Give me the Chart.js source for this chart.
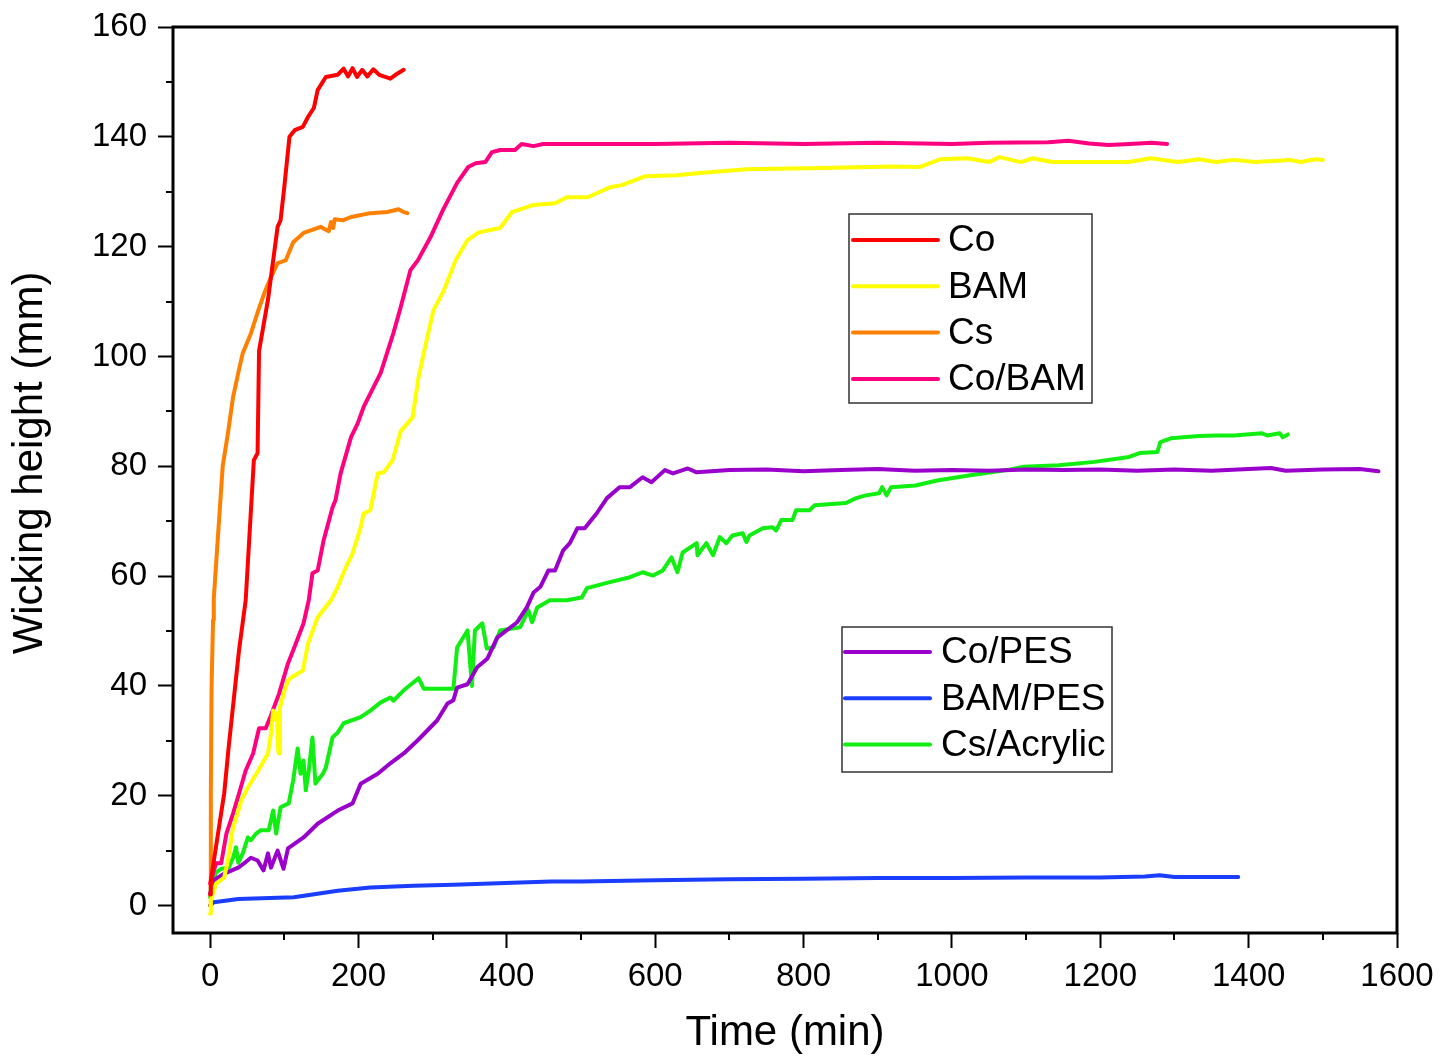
<!DOCTYPE html>
<html>
<head>
<meta charset="utf-8">
<script src="https://cdn.jsdelivr.net/npm/chart.js@4.4.0/dist/chart.umd.min.js"></script>
<style>
body { margin: 0; background: #fff; }
#graf { display: block; }
</style>
</head>
<body>
<canvas id="graf" width="1452" height="1057"></canvas>
<script>
/* Datos: tiempo (min) y altura (mm) */
const coT = [0, 1, 19, 25, 39, 48, 59, 64, 66, 78, 91, 95, 100, 107, 114, 125, 132, 140, 145, 156, 172, 180, 186, 192, 198, 205, 212, 220, 228, 234, 243, 250, 261]
const coH = [2, 4.6, 20.4, 28.8, 46.5, 55.6, 81.1, 82.4, 101, 110.3, 123.6, 124.8, 130.8, 140, 141.2, 141.8, 143.6, 145.3, 148.5, 150.9, 151.3, 152.4, 151, 152.5, 150.9, 152.2, 151, 152.3, 151.3, 151, 150.6, 151.3, 152.2]

const bamT = [0, 1, 8, 19, 24, 31, 42, 51, 65, 78, 82, 85, 88, 90, 92, 93, 94, 100, 105, 109, 125, 132, 145, 163, 172, 183, 192, 203, 207, 216, 226, 234, 246, 257, 273, 281, 288, 301, 315, 331, 347, 362, 391, 407, 436, 465, 481, 509, 539, 555, 586, 629, 660, 723, 825, 919, 956, 984, 1021, 1050, 1064, 1093, 1109, 1135, 1239, 1268, 1305, 1333, 1356, 1380, 1409, 1456, 1470, 1489, 1500]
const bamH = [-1.5, 0.9, 4, 5.1, 8.2, 14.2, 19.1, 21.5, 24.6, 27.7, 31.3, 35.5, 34, 35, 28, 27.7, 36, 39, 41, 41.5, 42.8, 47.7, 52.5, 55.6, 58, 61.6, 64.1, 68.9, 71.4, 72, 78.7, 78.9, 81.1, 86.4, 88.9, 96.2, 100.6, 108.4, 112, 117.5, 121.2, 122.6, 123.4, 126.3, 127.6, 127.9, 129, 129, 130.8, 131.2, 132.8, 133, 133.4, 134.1, 134.3, 134.6, 134.5, 135.9, 136.1, 135.4, 136.3, 135.4, 136.1, 135.4, 135.4, 136.1, 135.4, 135.9, 135.4, 135.8, 135.4, 135.8, 135.4, 135.9, 135.8]

const csT = [0, 1, 2, 4, 5, 11, 17, 24, 31, 38, 44, 55, 64, 73, 82, 91, 102, 112, 126, 149, 160, 163, 166, 168, 179, 190, 216, 239, 254, 261, 266]
const csH = [0, 20, 40, 52, 56, 68, 80, 86, 92.6, 97, 100.6, 104.2, 108, 111.5, 114.4, 117, 117.5, 120.8, 122.5, 123.6, 122.8, 124.5, 123.4, 125, 124.8, 125.4, 126.1, 126.3, 126.8, 126.3, 126.1]

const coBamT = [0, 8, 15, 22, 31, 39, 48, 58, 66, 75, 82, 93, 105, 113, 126, 133, 138, 145, 153, 165, 169, 176, 190, 199, 207, 230, 247, 257, 270, 280, 297, 314, 333, 348, 358, 371, 380, 391, 411, 420, 436, 449, 500, 600, 700, 800, 900, 1000, 1050, 1130, 1157, 1185, 1211, 1240, 1269, 1290]
const coBamH = [4, 7.7, 7.7, 13.1, 16.8, 20.4, 24.6, 27.7, 32.3, 32.3, 34.6, 38.6, 44.1, 46.8, 51.4, 55.6, 60.5, 61, 66.5, 72.5, 73.8, 78.7, 85.3, 87.8, 90.8, 97, 104.2, 109, 115.7, 117.5, 121.7, 126.7, 131.6, 134.5, 135.2, 135.4, 137.2, 137.6, 137.6, 138.7, 138.3, 138.7, 138.7, 138.7, 138.9, 138.7, 138.9, 138.7, 138.9, 139, 139.3, 138.8, 138.5, 138.7, 138.9, 138.7]

const coPesT = [0, 5, 19, 38, 46, 55, 64, 72, 78, 82, 91, 99, 105, 126, 145, 172, 192, 203, 226, 243, 261, 280, 306, 320, 328, 333, 347, 360, 374, 387, 414, 427, 436, 445, 456, 465, 476, 485, 495, 505, 521, 535, 552, 566, 583, 595, 613, 624, 644, 656, 700, 750, 800, 850, 900, 950, 1000, 1050, 1100, 1150, 1200, 1250, 1300, 1350, 1400, 1430, 1450, 1500, 1550, 1575]
const coPesH = [2.2, 4.6, 5.8, 6.9, 7.7, 8.7, 8.2, 6.4, 9.5, 6.9, 10, 6.7, 10.4, 12.4, 14.9, 17.3, 18.6, 22.2, 24, 25.9, 27.7, 30.1, 33.7, 36.8, 37.4, 39.7, 40.3, 43.4, 45, 48.8, 51.6, 54.3, 57, 58, 61, 61, 64.7, 66, 68.7, 68.7, 71.4, 74.2, 76.2, 76.2, 78, 77.1, 79.3, 78.7, 79.6, 78.9, 79.3, 79.4, 79.1, 79.3, 79.5, 79.2, 79.3, 79.2, 79.4, 79.3, 79.4, 79.2, 79.4, 79.2, 79.5, 79.7, 79.2, 79.4, 79.5, 79.1]

const bamPesT = [0, 5, 38, 113, 172, 216, 274, 328, 418, 460, 500, 600, 700, 800, 900, 1000, 1100, 1200, 1260, 1280, 1300, 1386]
const bamPesH = [0, 0.6, 1.2, 1.5, 2.7, 3.3, 3.6, 3.8, 4.2, 4.4, 4.4, 4.6, 4.8, 4.9, 5, 5, 5.1, 5.1, 5.3, 5.5, 5.2, 5.2]

const csAcT = [0, 1, 8, 15, 25, 31, 35, 38, 44, 51, 55, 62, 68, 79, 85, 89, 95, 106, 112, 118, 122, 126, 129, 133, 138, 142, 152, 156, 165, 172, 180, 203, 216, 230, 243, 247, 261, 281, 288, 306, 328, 333, 347, 353, 357, 367, 373, 382, 391, 418, 429, 434, 441, 458, 481, 501, 508, 539, 566, 583, 597, 610, 622, 630, 637, 656, 657, 669, 678, 687, 696, 704, 718, 723, 727, 745, 758, 763, 770, 785, 790, 808, 815, 857, 871, 884, 902, 906, 912, 918, 951, 980, 1027, 1074, 1097, 1144, 1192, 1239, 1253, 1277, 1281, 1295, 1333, 1356, 1380, 1418, 1425, 1442, 1446, 1453]
const csAcH = [1.5, 3.3, 6, 6.7, 6.9, 8.7, 10.6, 7.8, 9.5, 12.4, 11.9, 13.1, 13.7, 13.7, 17.3, 13.1, 17.9, 18.6, 22.8, 28.6, 24, 26.4, 21, 24.6, 30.6, 22.2, 24, 25.1, 30.6, 31.5, 33.2, 34.3, 35.5, 37, 37.9, 37.3, 39.2, 41.4, 39.5, 39.5, 39.5, 47, 50.1, 40, 50.1, 51.4, 46.8, 47, 50.1, 50.7, 53.8, 51.6, 54.3, 55.6, 55.6, 56.1, 57.8, 58.9, 59.8, 60.7, 60.1, 61, 63.4, 60.7, 64.3, 66, 63.8, 66, 63.8, 67.1, 66, 67.4, 67.8, 66.2, 67.4, 68.7, 68.9, 68.3, 70.2, 70.2, 72, 72, 72.9, 73.3, 74.2, 74.7, 75.1, 76.2, 74.7, 76.2, 76.5, 77.4, 78.4, 79.3, 79.9, 80.2, 80.8, 81.7, 82.4, 82.6, 84.4, 85.1, 85.5, 85.6, 85.6, 86, 85.6, 86, 85.3, 85.8]

// ticks de los ejes
const xTicks = [0, 200, 400, 600, 800, 1000, 1200, 1400, 1600]
const yTicks = [0, 20, 40, 60, 80, 100, 120, 140, 160]

const fuente = "'Liberation Sans', Arial, sans-serif"

const series = [
    { label: 'Co', t: coT, h: coH, color: '#FF0000' },
    { label: 'BAM', t: bamT, h: bamH, color: '#FFFF00' },
    { label: 'Cs', t: csT, h: csH, color: '#FF8000' },
    { label: 'Co/BAM', t: coBamT, h: coBamH, color: '#FF0080' },
    { label: 'Co/PES', t: coPesT, h: coPesH, color: '#9900CC' },
    { label: 'BAM/PES', t: bamPesT, h: bamPesH, color: '#1A3DFF' },
    { label: 'Cs/Acrylic', t: csAcT, h: csAcH, color: '#11EE11' }
]

function CrearDataset(s) {
    return {
        label: s.label,
        data: s.t.map((t, i) => ({ x: t, y: s.h[i] })),
        showLine: true,
        borderColor: s.color,
        backgroundColor: s.color,
        borderWidth: 4,
        borderJoinStyle: 'round',
        borderCapStyle: 'round',
        pointRadius: 0,
        tension: 0
    }
}

// marco, ticks menores, titulo del eje y y las dos leyendas
const marco = {
    id: 'marco',
    afterDraw(chart) {
        const ctx = chart.ctx
        const a = chart.chartArea
        const xs = chart.scales.x
        const ys = chart.scales.y
        ctx.save()
        ctx.strokeStyle = '#000'
        ctx.lineWidth = 2
        ctx.beginPath()
        xTicks.slice(0, -1).forEach(v => {
            let px = Math.round(xs.getPixelForValue(v + 100))
            ctx.moveTo(px, a.bottom)
            ctx.lineTo(px, a.bottom + 7)
        })
        yTicks.slice(0, -1).forEach(v => {
            let py = Math.round(ys.getPixelForValue(v + 10))
            ctx.moveTo(a.left, py)
            ctx.lineTo(a.left - 7, py)
        })
        ctx.stroke()
        ctx.lineWidth = 3
        ctx.strokeRect(a.left, a.top, a.right - a.left, a.bottom - a.top)

        // titulo del eje y (un poco por encima del centro, como en la figura)
        ctx.save()
        ctx.translate(30, 463)
        ctx.rotate(-Math.PI / 2)
        ctx.fillStyle = '#000'
        ctx.font = `42px ${fuente}`
        ctx.textAlign = 'center'
        ctx.textBaseline = 'middle'
        ctx.fillText('Wicking height (mm)', 0, 0)
        ctx.restore()

        const leyendas = [
            { items: [0, 1, 2, 3], x: 849, y: 214, w: 243, h: 189, x0: 853, x1: 938, tx: 948, y0: 240 },
            { items: [4, 5, 6], x: 842, y: 627, w: 270, h: 145, x0: 845, x1: 930, tx: 941, y0: 652 }
        ]
        leyendas.forEach(l => {
            ctx.fillStyle = '#fff'
            ctx.fillRect(l.x, l.y, l.w, l.h)
            ctx.strokeStyle = '#333'
            ctx.lineWidth = 1.5
            ctx.strokeRect(l.x, l.y, l.w, l.h)
            l.items.forEach((idx, k) => {
                let ds = chart.data.datasets[idx]
                let yy = l.y0 + k * 46.3
                ctx.strokeStyle = ds.borderColor
                ctx.lineWidth = 4
                ctx.lineCap = 'round'
                ctx.beginPath()
                ctx.moveTo(l.x0, yy)
                ctx.lineTo(l.x1, yy)
                ctx.stroke()
                ctx.fillStyle = '#000'
                ctx.font = `37px ${fuente}`
                ctx.textBaseline = 'middle'
                ctx.fillText(ds.label, l.tx, yy + 1)
            })
        })
        ctx.restore()
    }
}

const graf = new Chart('graf', {
    type: 'scatter',
    data: { datasets: series.map(CrearDataset) },
    options: {
        responsive: false,
        animation: false,
        devicePixelRatio: 1,
        layout: { padding: { top: 27, right: 55, left: 0, bottom: 0 } },
        plugins: { legend: { display: false }, tooltip: { enabled: false } },
        scales: {
            x: {
                type: 'linear',
                min: -50,
                max: 1600,
                afterFit: s => { s.height = 124 },
                afterBuildTicks: s => { s.ticks = xTicks.map(v => ({ value: v })) },
                ticks: { color: '#000', padding: 9, maxRotation: 0, font: { size: 33, family: fuente }, callback: v => String(v) },
                grid: { drawOnChartArea: false, tickLength: 15, tickWidth: 2, tickColor: '#000' },
                border: { display: false },
                title: { display: true, text: 'Time (min)', color: '#000', padding: { top: 0, bottom: -2 }, font: { size: 42, family: fuente } }
            },
            y: {
                type: 'linear',
                min: -5,
                max: 160,
                afterFit: s => { s.width = 173; s.paddingTop = 0; s.paddingBottom = 0 },
                afterBuildTicks: s => { s.ticks = yTicks.map(v => ({ value: v })) },
                ticks: { color: '#000', padding: 11, font: { size: 33, family: fuente }, callback: v => String(v) },
                grid: { drawOnChartArea: false, tickLength: 15, tickWidth: 2, tickColor: '#000' },
                border: { display: false }
            }
        }
    },
    plugins: [marco]
})
</script>
</body>
</html>
